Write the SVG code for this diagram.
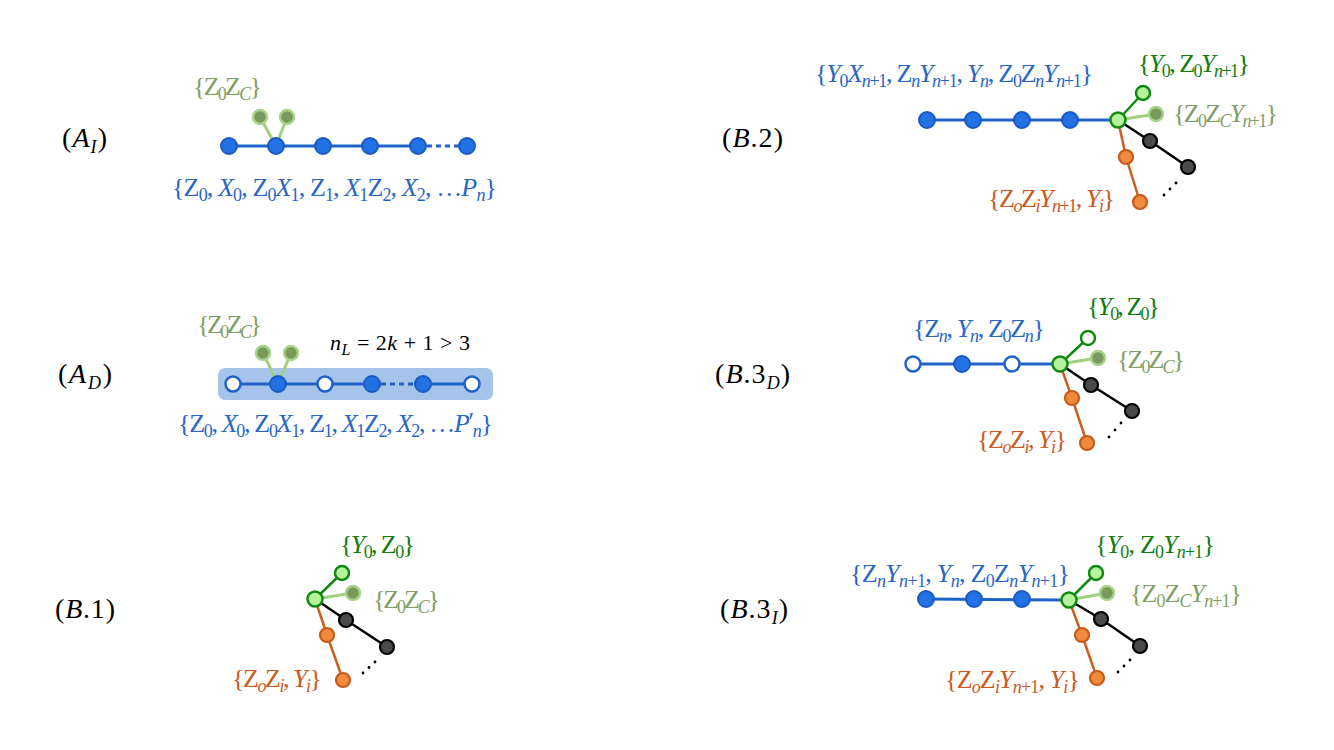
<svg xmlns="http://www.w3.org/2000/svg" width="1334" height="750" viewBox="0 0 1334 750">
<style>
text{font-family:"Liberation Serif","Times New Roman",serif;font-size:26px}
.i{font-style:italic}
.s{font-size:18px}
.p{font-size:28px}
.lb{fill:#000}
.tb{fill:#2a66c6}
.tg{fill:#127d12}
.tf{fill:#7f9f66}
.to{fill:#cc5a1e}
.nb{fill:#2272e6;stroke:#1a5bc0;stroke-width:2}
.no{fill:#fff;stroke:#1f62c8;stroke-width:2.5}
.nf{fill:#7a9a5c;stroke:#a6d48a;stroke-width:2.5}
.nc{fill:#b4f29c;stroke:#128a12;stroke-width:2.5}
.nt{fill:#b4f29c;stroke:#128a12;stroke-width:2.5}
.ntw{fill:#fff;stroke:#128a12;stroke-width:2.5}
.nk{fill:#4a4a4a;stroke:#000;stroke-width:2.2}
.nr{fill:#f08a3c;stroke:#c85a1a;stroke-width:2.2}
.eb{stroke:#2062c8;stroke-width:3;fill:none}
.ebd{stroke:#2062c8;stroke-width:3;fill:none;stroke-dasharray:5 4}
.eg{stroke:#128a12;stroke-width:2.5}
.ef{stroke:#a0d080;stroke-width:3}
.ek{stroke:#000;stroke-width:2.5}
.er{stroke:#cc6022;stroke-width:2.5}
.dot{fill:#000}
</style>

<!-- highlight band -->
<rect x="218" y="368" width="275" height="32" rx="7" fill="#a6c3ea"/>

<g id="connectors">
  <!-- A_I -->
  <line class="eb" x1="229" y1="146" x2="418" y2="146"/>
  <line class="ebd" x1="418" y1="146" x2="467" y2="146"/>
  <line class="ef" x1="276" y1="146" x2="260" y2="117"/>
  <line class="ef" x1="276" y1="146" x2="287" y2="117"/>
  <!-- A_D -->
  <line class="eb" x1="233" y1="384" x2="372" y2="384"/>
  <line class="ebd" x1="372" y1="384" x2="423" y2="384"/>
  <line class="eb" x1="423" y1="384" x2="472" y2="384"/>
  <line class="ef" x1="278" y1="384" x2="263" y2="353"/>
  <line class="ef" x1="278" y1="384" x2="291" y2="353"/>
  <!-- B.1 -->
  <line class="eg" x1="315" y1="599" x2="342" y2="573"/>
  <line class="ef" x1="315" y1="599" x2="353" y2="593"/>
  <polyline class="ek" fill="none" points="315,599 346,620 387,647"/>
  <polyline class="er" fill="none" points="315,599 327,635 343,680"/>
  <!-- B.2 -->
  <line class="eb" x1="927" y1="120" x2="1118" y2="120"/>
  <line class="eg" x1="1118" y1="120" x2="1143" y2="93"/>
  <line class="ef" x1="1118" y1="120" x2="1156" y2="114"/>
  <polyline class="ek" fill="none" points="1118,120 1150,141 1188,167"/>
  <polyline class="er" fill="none" points="1118,120 1126,157 1140,202"/>
  <!-- B.3_D -->
  <line class="eb" x1="913" y1="364" x2="1060" y2="364"/>
  <line class="eg" x1="1060" y1="364" x2="1088" y2="338"/>
  <line class="ef" x1="1060" y1="364" x2="1098" y2="358"/>
  <polyline class="ek" fill="none" points="1060,364 1091,385 1132,411"/>
  <polyline class="er" fill="none" points="1060,364 1072,398 1087,443"/>
  <!-- B.3_I -->
  <line class="eb" x1="926" y1="599" x2="1069" y2="600"/>
  <line class="eg" x1="1069" y1="600" x2="1096" y2="573"/>
  <line class="ef" x1="1069" y1="600" x2="1107" y2="593"/>
  <polyline class="ek" fill="none" points="1069,600 1101,619 1140,646"/>
  <polyline class="er" fill="none" points="1069,600 1082,635 1097,678"/>
</g>

<!-- Panel A_I -->
<g id="AI">
  <g id="AI-n1"><circle class="nb" cx="229" cy="146" r="8"/></g>
  <g id="AI-n2"><circle class="nb" cx="276" cy="146" r="8"/></g>
  <g id="AI-n3"><circle class="nb" cx="323" cy="146" r="8"/></g>
  <g id="AI-n4"><circle class="nb" cx="370" cy="146" r="8"/></g>
  <g id="AI-n5"><circle class="nb" cx="418" cy="146" r="8"/></g>
  <g id="AI-n6"><circle class="nb" cx="467" cy="146" r="8"/></g>
  <g id="AI-c1"><circle class="nf" cx="260" cy="117" r="7"/></g>
  <g id="AI-c2"><circle class="nf" cx="287" cy="117" r="7"/></g>
</g>
<!-- Panel A_D -->
<g id="AD">
  <g id="AD-n1"><circle class="no" cx="233" cy="384" r="7.5"/></g>
  <g id="AD-n2"><circle class="nb" cx="278" cy="384" r="8"/></g>
  <g id="AD-n3"><circle class="no" cx="325" cy="384" r="7.5"/></g>
  <g id="AD-n4"><circle class="nb" cx="372" cy="384" r="8"/></g>
  <g id="AD-n5"><circle class="nb" cx="423" cy="384" r="8"/></g>
  <g id="AD-n6"><circle class="no" cx="472" cy="384" r="7.5"/></g>
  <g id="AD-c1"><circle class="nf" cx="263" cy="353" r="7"/></g>
  <g id="AD-c2"><circle class="nf" cx="291" cy="353" r="7"/></g>
</g>
<!-- Panel B.1 -->
<g id="B1">
  <g id="B1-c"><circle class="nc" cx="315" cy="599" r="7.5"/></g>
  <g id="B1-t"><circle class="nt" cx="342" cy="573" r="7"/></g>
  <g id="B1-f"><circle class="nf" cx="353" cy="593" r="7"/></g>
  <g id="B1-k1"><circle class="nk" cx="346" cy="620" r="7"/></g>
  <g id="B1-k2"><circle class="nk" cx="387" cy="647" r="7"/></g>
  <g id="B1-o1"><circle class="nr" cx="327" cy="635" r="7"/></g>
  <g id="B1-o2"><circle class="nr" cx="343" cy="680" r="7"/></g>
  <circle class="dot" cx="363" cy="673" r="1.4"/><circle class="dot" cx="369" cy="667.5" r="1.4"/><circle class="dot" cx="375" cy="662" r="1.4"/>
</g>
<!-- Panel B.2 -->
<g id="B2">
  <g id="B2-n1"><circle class="nb" cx="927" cy="120" r="8"/></g>
  <g id="B2-n2"><circle class="nb" cx="973" cy="120" r="8"/></g>
  <g id="B2-n3"><circle class="nb" cx="1022" cy="120" r="8"/></g>
  <g id="B2-n4"><circle class="nb" cx="1070" cy="120" r="8"/></g>
  <g id="B2-c"><circle class="nc" cx="1118" cy="120" r="7.5"/></g>
  <g id="B2-t"><circle class="nt" cx="1143" cy="93" r="7"/></g>
  <g id="B2-f"><circle class="nf" cx="1156" cy="114" r="7"/></g>
  <g id="B2-k1"><circle class="nk" cx="1150" cy="141" r="7"/></g>
  <g id="B2-k2"><circle class="nk" cx="1188" cy="167" r="7"/></g>
  <g id="B2-o1"><circle class="nr" cx="1126" cy="157" r="7"/></g>
  <g id="B2-o2"><circle class="nr" cx="1140" cy="202" r="7"/></g>
  <circle class="dot" cx="1164" cy="195" r="1.4"/><circle class="dot" cx="1170" cy="189" r="1.4"/><circle class="dot" cx="1176" cy="183" r="1.4"/>
</g>
<!-- Panel B.3_D -->
<g id="B3D">
  <g id="B3D-n1"><circle class="no" cx="913" cy="364" r="7.5"/></g>
  <g id="B3D-n2"><circle class="nb" cx="962" cy="364" r="8"/></g>
  <g id="B3D-n3"><circle class="no" cx="1012" cy="364" r="7.5"/></g>
  <g id="B3D-c"><circle class="nc" cx="1060" cy="364" r="7.5"/></g>
  <g id="B3D-t"><circle class="ntw" cx="1088" cy="338" r="7"/></g>
  <g id="B3D-f"><circle class="nf" cx="1098" cy="358" r="7"/></g>
  <g id="B3D-k1"><circle class="nk" cx="1091" cy="385" r="7"/></g>
  <g id="B3D-k2"><circle class="nk" cx="1132" cy="411" r="7"/></g>
  <g id="B3D-o1"><circle class="nr" cx="1072" cy="398" r="7"/></g>
  <g id="B3D-o2"><circle class="nr" cx="1087" cy="443" r="7"/></g>
  <circle class="dot" cx="1109" cy="437" r="1.4"/><circle class="dot" cx="1115" cy="430" r="1.4"/><circle class="dot" cx="1121" cy="423" r="1.4"/>
</g>
<!-- Panel B.3_I -->
<g id="B3I">
  <g id="B3I-n1"><circle class="nb" cx="926" cy="599" r="8"/></g>
  <g id="B3I-n2"><circle class="nb" cx="974" cy="599" r="8"/></g>
  <g id="B3I-n3"><circle class="nb" cx="1022" cy="599" r="8"/></g>
  <g id="B3I-c"><circle class="nc" cx="1069" cy="600" r="7.5"/></g>
  <g id="B3I-t"><circle class="nt" cx="1096" cy="573" r="7"/></g>
  <g id="B3I-f"><circle class="nf" cx="1107" cy="593" r="7"/></g>
  <g id="B3I-k1"><circle class="nk" cx="1101" cy="619" r="7"/></g>
  <g id="B3I-k2"><circle class="nk" cx="1140" cy="646" r="7"/></g>
  <g id="B3I-o1"><circle class="nr" cx="1082" cy="635" r="7"/></g>
  <g id="B3I-o2"><circle class="nr" cx="1097" cy="678" r="7"/></g>
  <circle class="dot" cx="1118" cy="672" r="1.4"/><circle class="dot" cx="1124" cy="666" r="1.4"/><circle class="dot" cx="1130" cy="660" r="1.4"/>
</g>

<!-- Panel labels -->
<g id="labels">
  <text class="lb p" x="62" y="147" textLength="45">(<tspan class="i">A</tspan><tspan class="s i" dy="6">I</tspan><tspan dy="-6">)</tspan></text>
  <text class="lb p" x="58" y="383" textLength="54">(<tspan class="i">A</tspan><tspan class="s i" dy="6">D</tspan><tspan dy="-6">)</tspan></text>
  <text class="lb p" x="55" y="618" textLength="60">(<tspan class="i">B</tspan>.1)</text>
  <text class="lb p" x="722" y="147" textLength="61">(<tspan class="i">B</tspan>.2)</text>
  <text class="lb p" x="715" y="383" textLength="75">(<tspan class="i">B</tspan>.3<tspan class="s i" dy="6">D</tspan><tspan dy="-6">)</tspan></text>
  <text class="lb p" x="720" y="618" textLength="68">(<tspan class="i">B</tspan>.3<tspan class="s i" dy="6">I</tspan><tspan dy="-6">)</tspan></text>

  <!-- A_I -->
  <text class="tf" x="193" y="95" textLength="69">{Z<tspan class="s" dy="5">0</tspan><tspan dy="-5">Z</tspan><tspan class="s i" dy="5">C</tspan><tspan dy="-5">}</tspan></text>
  <text class="tb" x="172" y="196" textLength="325">{Z<tspan class="s" dy="5">0</tspan><tspan dy="-5">, </tspan><tspan class="i">X</tspan><tspan class="s" dy="5">0</tspan><tspan dy="-5">, Z</tspan><tspan class="s" dy="5">0</tspan><tspan class="i" dy="-5">X</tspan><tspan class="s" dy="5">1</tspan><tspan dy="-5">, Z</tspan><tspan class="s" dy="5">1</tspan><tspan dy="-5">, </tspan><tspan class="i">X</tspan><tspan class="s" dy="5">1</tspan><tspan dy="-5">Z</tspan><tspan class="s" dy="5">2</tspan><tspan dy="-5">, </tspan><tspan class="i">X</tspan><tspan class="s" dy="5">2</tspan><tspan dy="-5">, …</tspan><tspan class="i">P</tspan><tspan class="s i" dy="5">n</tspan><tspan dy="-5">}</tspan></text>

  <!-- A_D -->
  <text class="tf" x="197" y="333" textLength="65">{Z<tspan class="s" dy="5">0</tspan><tspan dy="-5">Z</tspan><tspan class="s i" dy="5">C</tspan><tspan dy="-5">}</tspan></text>
  <text class="lb" x="330" y="350" textLength="140" style="font-size:22px"><tspan class="i">n</tspan><tspan class="i" dy="5" style="font-size:16px">L</tspan><tspan dy="-5"> = 2</tspan><tspan class="i">k</tspan> + 1 &gt; 3</text>
  <text class="tb" x="178" y="432" textLength="315">{Z<tspan class="s" dy="5">0</tspan><tspan dy="-5">, </tspan><tspan class="i">X</tspan><tspan class="s" dy="5">0</tspan><tspan dy="-5">, Z</tspan><tspan class="s" dy="5">0</tspan><tspan class="i" dy="-5">X</tspan><tspan class="s" dy="5">1</tspan><tspan dy="-5">, Z</tspan><tspan class="s" dy="5">1</tspan><tspan dy="-5">, </tspan><tspan class="i">X</tspan><tspan class="s" dy="5">1</tspan><tspan dy="-5">Z</tspan><tspan class="s" dy="5">2</tspan><tspan dy="-5">, </tspan><tspan class="i">X</tspan><tspan class="s" dy="5">2</tspan><tspan dy="-5">, …</tspan><tspan class="i">P</tspan><tspan dy="-2">′</tspan><tspan class="s i" dy="7">n</tspan><tspan dy="-5">}</tspan></text>

  <!-- B.1 -->
  <text class="tg" x="340" y="553" textLength="75">{<tspan class="i">Y</tspan><tspan class="s" dy="5">0</tspan><tspan dy="-5">, Z</tspan><tspan class="s" dy="5">0</tspan><tspan dy="-5">}</tspan></text>
  <text class="tf" x="373" y="608" textLength="67">{Z<tspan class="s" dy="5">0</tspan><tspan dy="-5">Z</tspan><tspan class="s i" dy="5">C</tspan><tspan dy="-5">}</tspan></text>
  <text class="to" x="232" y="687" textLength="90">{Z<tspan class="s i" dy="5">o</tspan><tspan dy="-5">Z</tspan><tspan class="s i" dy="5">i</tspan><tspan dy="-5">, </tspan><tspan class="i">Y</tspan><tspan class="s i" dy="5">i</tspan><tspan dy="-5">}</tspan></text>

  <!-- B.2 -->
  <text class="tb" x="815" y="82" textLength="278">{<tspan class="i">Y</tspan><tspan class="s" dy="5">0</tspan><tspan class="i" dy="-5">X</tspan><tspan class="s" dy="5"><tspan class="i">n</tspan>+1</tspan><tspan dy="-5">, Z</tspan><tspan class="s i" dy="5">n</tspan><tspan class="i" dy="-5">Y</tspan><tspan class="s" dy="5"><tspan class="i">n</tspan>+1</tspan><tspan dy="-5">, </tspan><tspan class="i">Y</tspan><tspan class="s i" dy="5">n</tspan><tspan dy="-5">, Z</tspan><tspan class="s" dy="5">0</tspan><tspan dy="-5">Z</tspan><tspan class="s i" dy="5">n</tspan><tspan class="i" dy="-5">Y</tspan><tspan class="s" dy="5"><tspan class="i">n</tspan>+1</tspan><tspan dy="-5">}</tspan></text>
  <text class="tg" x="1138" y="72" textLength="112">{<tspan class="i">Y</tspan><tspan class="s" dy="5">0</tspan><tspan dy="-5">, Z</tspan><tspan class="s" dy="5">0</tspan><tspan class="i" dy="-5">Y</tspan><tspan class="s" dy="5"><tspan class="i">n</tspan>+1</tspan><tspan dy="-5">}</tspan></text>
  <text class="tf" x="1173" y="122" textLength="105">{Z<tspan class="s" dy="5">0</tspan><tspan dy="-5">Z</tspan><tspan class="s i" dy="5">C</tspan><tspan class="i" dy="-5">Y</tspan><tspan class="s" dy="5"><tspan class="i">n</tspan>+1</tspan><tspan dy="-5">}</tspan></text>
  <text class="to" x="988" y="207" textLength="127">{Z<tspan class="s i" dy="5">o</tspan><tspan dy="-5">Z</tspan><tspan class="s i" dy="5">i</tspan><tspan class="i" dy="-5">Y</tspan><tspan class="s" dy="5"><tspan class="i">n</tspan>+1</tspan><tspan dy="-5">, </tspan><tspan class="i">Y</tspan><tspan class="s i" dy="5">i</tspan><tspan dy="-5">}</tspan></text>

  <!-- B.3_D -->
  <text class="tb" x="913" y="337" textLength="132">{Z<tspan class="s i" dy="5">n</tspan><tspan dy="-5">, </tspan><tspan class="i">Y</tspan><tspan class="s i" dy="5">n</tspan><tspan dy="-5">, Z</tspan><tspan class="s" dy="5">0</tspan><tspan dy="-5">Z</tspan><tspan class="s i" dy="5">n</tspan><tspan dy="-5">}</tspan></text>
  <text class="tg" x="1087" y="315" textLength="73">{<tspan class="i">Y</tspan><tspan class="s" dy="5">0</tspan><tspan dy="-5">, Z</tspan><tspan class="s" dy="5">0</tspan><tspan dy="-5">}</tspan></text>
  <text class="tf" x="1117" y="368" textLength="68">{Z<tspan class="s" dy="5">0</tspan><tspan dy="-5">Z</tspan><tspan class="s i" dy="5">C</tspan><tspan dy="-5">}</tspan></text>
  <text class="to" x="977" y="448" textLength="90">{Z<tspan class="s i" dy="5">o</tspan><tspan dy="-5">Z</tspan><tspan class="s i" dy="5">i</tspan><tspan dy="-5">, </tspan><tspan class="i">Y</tspan><tspan class="s i" dy="5">i</tspan><tspan dy="-5">}</tspan></text>

  <!-- B.3_I -->
  <text class="tb" x="850" y="582" textLength="220">{Z<tspan class="s i" dy="5">n</tspan><tspan class="i" dy="-5">Y</tspan><tspan class="s" dy="5"><tspan class="i">n</tspan>+1</tspan><tspan dy="-5">, </tspan><tspan class="i">Y</tspan><tspan class="s i" dy="5">n</tspan><tspan dy="-5">, Z</tspan><tspan class="s" dy="5">0</tspan><tspan dy="-5">Z</tspan><tspan class="s i" dy="5">n</tspan><tspan class="i" dy="-5">Y</tspan><tspan class="s" dy="5"><tspan class="i">n</tspan>+1</tspan><tspan dy="-5">}</tspan></text>
  <text class="tg" x="1095" y="553" textLength="120">{<tspan class="i">Y</tspan><tspan class="s" dy="5">0</tspan><tspan dy="-5">, Z</tspan><tspan class="s" dy="5">0</tspan><tspan class="i" dy="-5">Y</tspan><tspan class="s" dy="5"><tspan class="i">n</tspan>+1</tspan><tspan dy="-5">}</tspan></text>
  <text class="tf" x="1130" y="602" textLength="112">{Z<tspan class="s" dy="5">0</tspan><tspan dy="-5">Z</tspan><tspan class="s i" dy="5">C</tspan><tspan class="i" dy="-5">Y</tspan><tspan class="s" dy="5"><tspan class="i">n</tspan>+1</tspan><tspan dy="-5">}</tspan></text>
  <text class="to" x="945" y="688" textLength="135">{Z<tspan class="s i" dy="5">o</tspan><tspan dy="-5">Z</tspan><tspan class="s i" dy="5">i</tspan><tspan class="i" dy="-5">Y</tspan><tspan class="s" dy="5"><tspan class="i">n</tspan>+1</tspan><tspan dy="-5">, </tspan><tspan class="i">Y</tspan><tspan class="s i" dy="5">i</tspan><tspan dy="-5">}</tspan></text>
</g>
</svg>
